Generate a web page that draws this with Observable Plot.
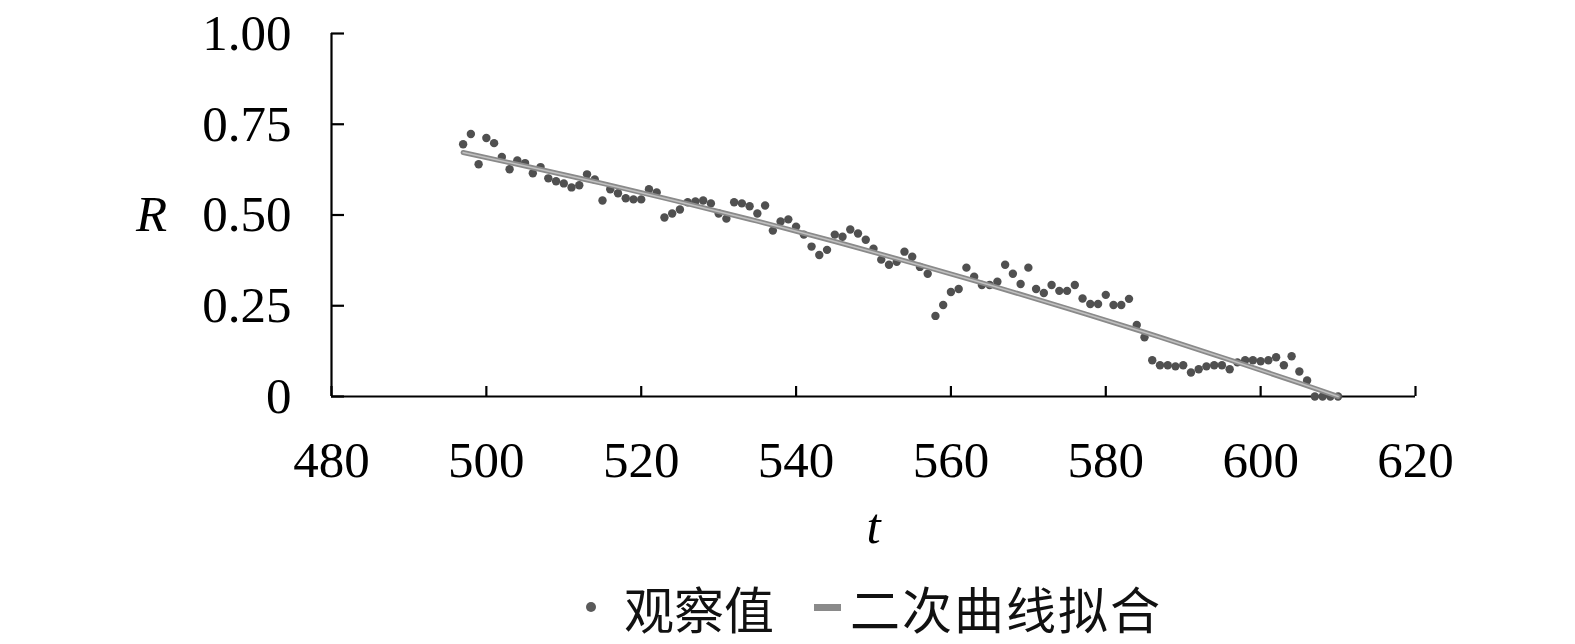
<!DOCTYPE html>
<html><head><meta charset="utf-8">
<script src="https://cdn.jsdelivr.net/npm/d3@7"></script>
<script src="https://cdn.jsdelivr.net/npm/@observablehq/plot@0.6"></script>
<style>
html,body{margin:0;background:#fff;overflow:hidden;}
#chart svg{display:block;max-width:none !important;width:1575px;height:575px;}
#legend{display:flex;align-items:center;height:64px;padding-left:586px;font-family:"Noto Sans CJK SC";font-size:50px;color:#111;line-height:1;}
#legend .b{width:10px;height:10px;border-radius:50%;background:#5a5a5a;margin-right:28px;}
#legend .d{width:27px;height:7px;background:#8a8a8a;margin-left:40px;margin-right:9px;}
#legend .s{letter-spacing:2px;}
</style></head><body>
<div id="chart"></div>
<div id="legend"><span class="b"></span><span>观察值</span><span class="d"></span><span class="s">二次曲线拟合</span></div>
<script>
const t = [497,498,499,500,501,502,503,504,505,506,507,508,509,510,511,512,513,514,515,516,517,518,519,520,521,522,523,524,525,526,527,528,529,530,531,532,533,534,535,536,537,538,539,540,541,542,543,544,545,546,547,548,549,550,551,552,553,554,555,556,557,558,559,560,561,562,563,564,565,566,567,568,569,570,571,572,573,574,575,576,577,578,579,580,581,582,583,584,585,586,587,588,589,590,591,592,593,594,595,596,597,598,599,600,601,602,603,604,605,606,607,608,609,610];
const R = [0.695,0.723,0.64,0.712,0.698,0.66,0.626,0.65,0.643,0.615,0.632,0.601,0.593,0.587,0.576,0.582,0.612,0.598,0.54,0.571,0.56,0.546,0.543,0.543,0.571,0.562,0.493,0.504,0.515,0.535,0.537,0.54,0.532,0.504,0.49,0.535,0.532,0.524,0.504,0.526,0.457,0.482,0.488,0.468,0.446,0.413,0.39,0.404,0.446,0.44,0.46,0.449,0.432,0.407,0.377,0.363,0.371,0.399,0.385,0.357,0.338,0.222,0.252,0.288,0.296,0.355,0.33,0.307,0.307,0.316,0.363,0.338,0.31,0.355,0.296,0.285,0.307,0.291,0.291,0.307,0.27,0.255,0.255,0.28,0.252,0.252,0.269,0.197,0.163,0.1,0.086,0.086,0.083,0.086,0.066,0.075,0.083,0.086,0.086,0.075,0.094,0.1,0.1,0.097,0.1,0.108,0.086,0.111,0.069,0.044,0,0,0,0];
const fitT = [497,505,515,525,535,545,555,565,575,585,595,605,610];
const fitR = [0.672,0.635,0.587,0.536,0.483,0.427,0.368,0.307,0.243,0.177,0.108,0.037,0.0];
const xTicks = [480,500,520,540,560,580,600,620];
const yTicks = [0,0.25,0.5,0.75,1];
const yTickLabels = ["0","0.25","0.50","0.75","1.00"];

const obs = t.map((d,i)=>({t:d,R:R[i]}));
const fit = fitT.map((d,i)=>({t:d,R:fitR[i]}));
const W=1575,H=575,mL=331,mR=160,mT=33,mB=179;
const fw = W-mL-mR, fh = H-mT-mB;
const chart = Plot.plot({
  width:W,height:H,marginLeft:mL,marginRight:mR,marginTop:mT,marginBottom:mB,
  style:{fontFamily:"Liberation Serif",fontSize:"51px",color:"#000",background:"#fff",overflow:"visible"},
  x:{domain:[480,620]},
  y:{domain:[0,1]},
  marks:[
    Plot.axisX(xTicks,{tickSize:0,tickPadding:44,fontSize:51,label:null,tickFormat:d=>String(d)}),
    Plot.axisY(yTicks,{tickSize:0,tickPadding:40,fontSize:51,label:null,tickFormat:d=>yTickLabels[yTicks.indexOf(d)]}),
    Plot.ruleY([0],{stroke:"#000",strokeWidth:2.2}),
    Plot.ruleX([480],{stroke:"#000",strokeWidth:2.2}),
    Plot.tickY(yTicks,{y:d=>d,stroke:"#000",strokeWidth:2.2,insetRight:fw-13}),
    Plot.tickX(xTicks,{x:d=>d,stroke:"#000",strokeWidth:2.2,insetTop:fh-10}),
    Plot.dot(obs,{x:"t",y:"R",r:4.2,fill:"#505050"}),
    Plot.line(fit,{x:"t",y:"R",curve:"natural",stroke:"#8a8a8a",strokeWidth:5}),
    Plot.line(fit,{x:"t",y:"R",curve:"natural",stroke:"#c0c0c0",strokeWidth:1.5}),
    Plot.text(["R"],{frameAnchor:"left",dx:-180,textAnchor:"middle",text:d=>d,fontStyle:"italic",fontSize:51,fill:"#000"}),
    Plot.text(["t"],{frameAnchor:"bottom",dy:146,textAnchor:"middle",text:d=>d,fontStyle:"italic",fontSize:51,fill:"#000"})
  ]
});
document.getElementById("chart").appendChild(chart);
</script>
</body></html>
